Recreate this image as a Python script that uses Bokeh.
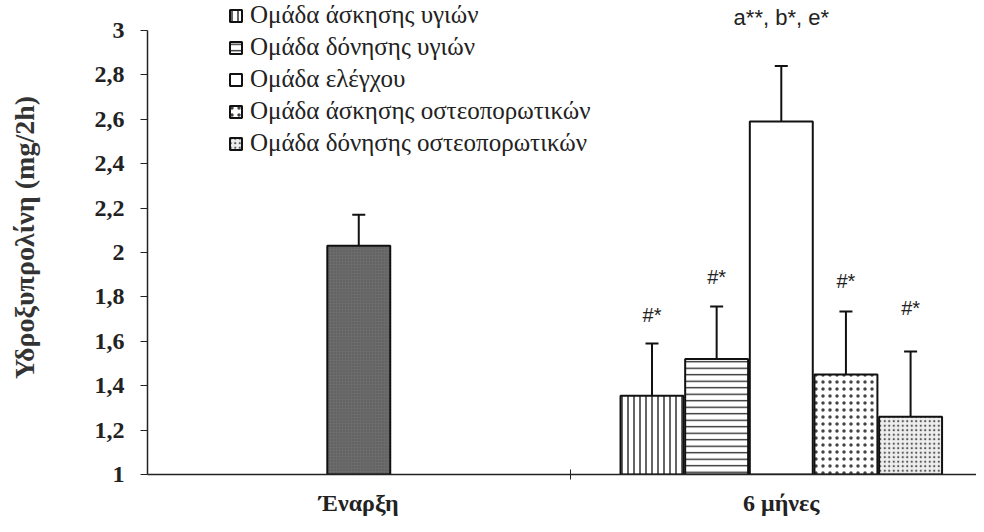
from bokeh.plotting import figure
from bokeh.models import (ColumnDataSource, Range1d, FixedTicker, CustomJSTickFormatter,
                          Whisker, TeeHead, Legend, LegendItem)
from bokeh.core.properties import value
from bokeh.embed import file_html
from bokeh.resources import INLINE

# ---- data ----
categories = ["Έναρξη", "6 μήνες"]
baseline_mean = [2.03]
baseline_sd = [0.14]
groups = ["Ομάδα άσκησης υγιών", "Ομάδα δόνησης υγιών", "Ομάδα ελέγχου",
          "Ομάδα άσκησης οστεοπορωτικών", "Ομάδα δόνησης οστεοπορωτικών"]
month6_mean = [1.355, 1.52, 2.59, 1.45, 1.26]
month6_sd = [0.235, 0.237, 0.25, 0.284, 0.294]
month6_sig = ["#*", "#*", "a**, b*, e*", "#*", "#*"]
sig_label_y = [1.67, 1.84, 3.0, 1.82, 1.70]
y_ticks = [1, 1.2, 1.4, 1.6, 1.8, 2, 2.2, 2.4, 2.6, 2.8, 3]

# ---- styles ----
bar_w = 0.149
step = 0.153
sig_sizes = ["20px", "20px", "22px", "20px", "20px"]
styles = [
    dict(fill_color="white", hatch_pattern="vertical_line", hatch_scale=6, hatch_weight=1.3, hatch_color="#111"),
    dict(fill_color="white", hatch_pattern="horizontal_line", hatch_scale=6.5, hatch_weight=1.3, hatch_color="#222"),
    dict(fill_color="white"),
    dict(fill_color="white", hatch_pattern="dot", hatch_scale=7, hatch_weight=0.6, hatch_color="#444"),
    dict(fill_color="#eeeeee", hatch_pattern="dot", hatch_scale=4.5, hatch_weight=0.6, hatch_color="#555"),
]

p = figure(width=976, height=520, output_backend="svg", toolbar_location=None,
           x_range=Range1d(0, 1.962), y_range=Range1d(1, 3.135),
           min_border_left=147, min_border_right=0, min_border_top=0, min_border_bottom=46)
p.outline_line_color = None
p.grid.visible = False
p.background_fill_color = "white"

serif = "Liberation Serif"
sans = "Liberation Sans"

# baseline bar
bx = [0.5]
p.vbar(x=bx, top=baseline_mean, bottom=1, width=bar_w, fill_color="#6c6c6c",
       hatch_pattern="dot", hatch_scale=3, hatch_color="#555", hatch_weight=0.8,
       line_color="#111", line_width=2)
src0 = ColumnDataSource(dict(x=bx, lower=baseline_mean,
                             upper=[m + s for m, s in zip(baseline_mean, baseline_sd)]))
p.add_layout(Whisker(base="x", lower="lower", upper="upper", source=src0,
                     line_width=2, line_color="#111", lower_head=None,
                     upper_head=TeeHead(size=13, line_width=2, line_color="#111")))

# 6-month bars
xs = [1.5 + (i - 2) * step for i in range(len(groups))]
items = []
for i, g in enumerate(groups):
    r = p.vbar(x=[xs[i]], top=[month6_mean[i]], bottom=1, width=bar_w,
               line_color="#111", line_width=2, **styles[i])
    items.append(LegendItem(label=g, renderers=[r]))

src1 = ColumnDataSource(dict(x=xs, lower=month6_mean,
                             upper=[m + s for m, s in zip(month6_mean, month6_sd)]))
p.add_layout(Whisker(base="x", lower="lower", upper="upper", source=src1,
                     line_width=2, line_color="#111", lower_head=None,
                     upper_head=TeeHead(size=13, line_width=2, line_color="#111")))

src_sig = ColumnDataSource(dict(x=xs, y=sig_label_y, t=month6_sig, s=sig_sizes))
p.text(x="x", y="y", text="t", source=src_sig, text_font=value(sans), text_font_size="s",
       text_align="center", text_baseline="bottom", text_color="#222")

legend = Legend(items=items, location=(81, 317), orientation="vertical",
                label_text_font=serif, label_text_font_size="25px", label_text_color="#222",
                glyph_width=15, glyph_height=15, label_height=27, spacing=4,
                label_standoff=7, padding=0, margin=0,
                border_line_color=None, background_fill_alpha=0)
p.add_layout(legend, "center")

# axes
yax = p.yaxis[0]
yax.bounds = (1, 3)
yax.ticker = FixedTicker(ticks=y_ticks)
yax.formatter = CustomJSTickFormatter(code="return (Math.round(tick*10)/10).toString().replace('.', ',');")
yax.major_label_text_font = serif
yax.major_label_text_font_style = "bold"
yax.major_label_text_font_size = "24px"
yax.major_label_text_color = "#222"
yax.major_tick_in = 0
yax.major_tick_out = 7
yax.minor_tick_line_color = None
yax.axis_line_width = 1.5
yax.axis_line_color = "#222"
yax.major_tick_line_color = "#222"
yax.axis_label = "Υδροξυπρολίνη (mg/2h)"
yax.axis_label_text_font = serif
yax.axis_label_text_font_style = "bold"
yax.axis_label_text_font_size = "28px"
yax.axis_label_text_color = "#333"
yax.axis_label_standoff = 52
yax.major_label_standoff = 16

xax = p.xaxis[0]
xax.ticker = FixedTicker(ticks=[0.5, 1.5], minor_ticks=[1.0])
xax.major_label_overrides = {0.5: categories[0], 1.5: categories[1]}
xax.major_label_text_font = serif
xax.major_label_text_font_style = "bold"
xax.major_label_text_font_size = "24px"
xax.major_label_text_color = "#222"
xax.major_tick_in = 0
xax.major_tick_out = 0
xax.minor_tick_in = 5
xax.minor_tick_out = 5
xax.minor_tick_line_color = "#222"
xax.axis_line_width = 1.5
xax.axis_line_color = "#222"
xax.major_label_standoff = 10

open("out.html", "w").write(file_html(p, INLINE))
